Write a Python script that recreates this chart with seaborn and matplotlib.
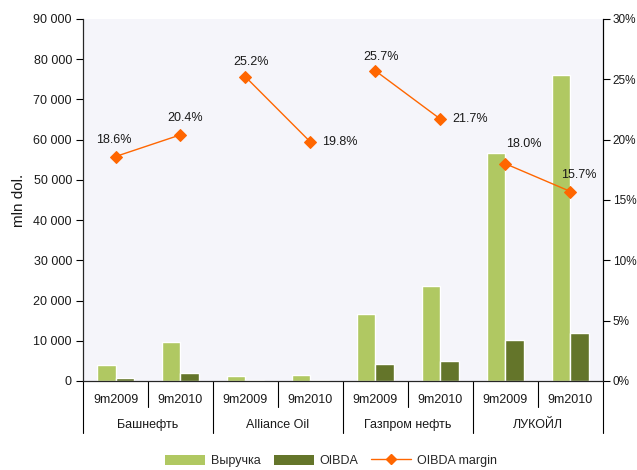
import matplotlib
matplotlib.use("Agg")
import matplotlib.pyplot as plt
import matplotlib.ticker as mticker
from matplotlib.lines import Line2D
from matplotlib.patches import Patch
import seaborn as sns
import pandas as pd

companies = ["Башнефть", "Alliance Oil", "Газпром нефть", "ЛУКОЙЛ"]
periods = ["9m2009", "9m2010"]
revenue = [4000, 9700, 1250, 1500, 16700, 23600, 56700, 76000]
oibda = [750, 2000, 350, 350, 4250, 5000, 10200, 12000]
margin = [18.6, 20.4, 25.2, 19.8, 25.7, 21.7, 18.0, 15.7]
# label offsets (points) for margin annotations
label_offsets = [(-1, 12), (3, 12), (4, 11), (21, 0), (4, 10), (21, 0), (13, 14), (6, 12)]

sns.set_style("white")
plt.rcParams["font.family"] = ["Liberation Sans", "DejaVu Sans"]
plt.rcParams["font.size"] = 9

cats = [f"{c}|{p}" for c in companies for p in periods]
comp_col = [c for c in companies for p in periods]
per_col = [p for c in companies for p in periods]

df = pd.DataFrame({
    "cat": cats * 2,
    "metric": ["Выручка"] * len(cats) + ["OIBDA"] * len(cats),
    "value": revenue + oibda,
})
dm = pd.DataFrame({"pos": range(len(cats)), "company": comp_col, "margin": margin})

c_rev = "#B0C862"
c_oib = "#64752A"
c_line = "#FF6600"
txt = "#1a1a1a"

fig = plt.figure(figsize=(6.37, 4.70), dpi=100)
ax = fig.add_axes([0.1303, 0.1894, 0.8163, 0.7702])
ax.set_facecolor("#F5F5FA")

sns.barplot(data=df, x="cat", y="value", hue="metric", order=cats,
            hue_order=["Выручка", "OIBDA"], palette=[c_rev, c_oib],
            width=0.56, saturation=1, ax=ax, legend=False)
ax.set_xlim(-0.5, len(cats) - 0.5)
ax.set_ylim(0, 90000)
ax.yaxis.set_major_locator(mticker.MultipleLocator(10000))
ax.yaxis.set_major_formatter(mticker.FuncFormatter(lambda v, p: f"{int(v):,}".replace(",", " ")))
ax.set_xlabel("")
ax.set_ylabel("mln dol.", fontsize=11, labelpad=5, color=txt)
ax.set_xticks([])
ax.spines["top"].set_visible(False)
for s in ["left", "bottom", "right"]:
    ax.spines[s].set_color("black")
    ax.spines[s].set_linewidth(0.8)
ax.tick_params(axis="y", direction="out", length=5, width=0.8, color="black",
               labelsize=9, pad=3, labelcolor=txt)

ax2 = ax.twinx()
sns.lineplot(data=dm, x="pos", y="margin", units="company", estimator=None,
             color=c_line, marker="D", markersize=6, markeredgecolor=c_line,
             linewidth=1.0, ax=ax2, legend=False)
ax2.set_ylim(0, 30)
ax2.set_xlim(-0.5, len(cats) - 0.5)
ax2.yaxis.set_major_locator(mticker.MultipleLocator(5))
ax2.yaxis.set_major_formatter(mticker.FuncFormatter(lambda v, p: f"{int(v)}%"))
ax2.set_ylabel("")
ax2.set_xlabel("")
ax2.spines["top"].set_visible(False)
ax2.spines["right"].set_color("black")
ax2.spines["right"].set_linewidth(0.8)
ax2.tick_params(axis="y", direction="out", length=5, width=0.8, color="black",
                labelsize=8.5, pad=2, labelcolor=txt)
ax2.tick_params(axis="y", which="both", left=False, labelleft=False)

for i, (m, off) in enumerate(zip(margin, label_offsets)):
    ax2.annotate(f"{m:.1f}%", (i, m), xytext=off, textcoords="offset points",
                 ha="center", va="center", fontsize=9, color=txt)

# two-level category axis
tr = ax.get_xaxis_transform()
n = len(cats)
for b in range(n + 1):
    x = b - 0.5
    long = (b % 2 == 0)
    y_end = -0.145 if long else -0.072
    ax.plot([x, x], [0, y_end], transform=tr, color="black", lw=0.8, clip_on=False)
for i, p in enumerate(per_col):
    ax.text(i, -0.052, p, transform=tr, ha="center", va="center", fontsize=9, color=txt)
for j, c in enumerate(companies):
    ax.text(2 * j + 0.5, -0.122, c, transform=tr, ha="center", va="center", fontsize=9, color=txt)

handles = [Patch(facecolor=c_rev, edgecolor="none", label="Выручка"),
           Patch(facecolor=c_oib, edgecolor="none", label="OIBDA"),
           Line2D([0], [0], color=c_line, lw=1.0, marker="D", markersize=5, label="OIBDA margin")]
fig.legend(handles=handles, loc="lower center", bbox_to_anchor=(0.52, -0.018), ncol=3,
           frameon=False, fontsize=9, handlelength=3.2, handleheight=0.9,
           columnspacing=1.0, handletextpad=0.5)

fig.savefig("out.png", dpi=100)
